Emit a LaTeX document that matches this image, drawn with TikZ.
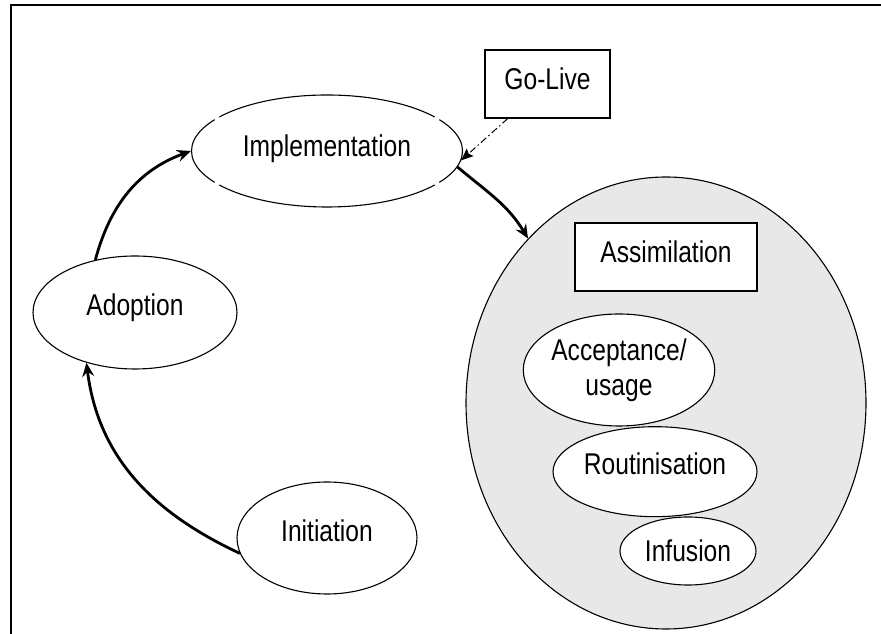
\documentclass[tikz,border=0pt]{standalone}
\usepackage{fontspec}
\setmainfont{Liberation Sans}[FakeStretch=0.82]
\usetikzlibrary{shapes.geometric,arrows.meta,calc}
\definecolor{assimgray}{RGB}{232,232,232}
\begin{document}
\begin{tikzpicture}[x=1pt,y=1pt,
  every node/.style={font=\fontsize{30}{35}\selectfont, inner sep=0pt},
  oval/.style={ellipse, draw, line width=1.1pt, fill=white},
  tbox/.style={rectangle, draw, line width=1.1pt, fill=white},
  flow/.style={line width=2.8pt, -{Stealth[length=14pt,width=12pt,inset=5pt]}},
  hint/.style={line width=1pt, dash pattern=on 7pt off 3pt on 1.5pt off 3pt, -{Stealth[length=12pt,width=10pt,inset=2pt]}}]
\useasboundingbox (0,0) rectangle (881,634);
\draw[line width=2pt] (11,0) -- (11,629) -- (881,629);

\node[oval, fill=assimgray, minimum width=400pt, minimum height=452pt] (assimarea) at (666,231) {};
\node[tbox, minimum width=182pt, minimum height=68pt, text height=21.5pt, text depth=10pt] (assimlabel) at (666,377) {Assimilation};
\node[oval, minimum width=184pt, minimum height=112pt, align=center] (accept) at (619,264) {Acceptance/\\usage};
\node[oval, minimum width=204pt, minimum height=90pt, text height=21.5pt, text depth=15pt] (rout) at (655,162.3) {Routinisation};
\node[oval, minimum width=136pt, minimum height=68pt, text height=21.5pt, text depth=0pt] (infusion) at (688,83) {Infusion};

\node[oval, minimum width=271pt, minimum height=112pt, text height=21.5pt, text depth=10pt] (impl) at (327,483) {Implementation};
\foreach \a in {35.7,144.3,215.7,324.3}
  \draw[white, line width=2.5pt] ($(impl.center)+({135.5*cos(\a-1.6)},{56*sin(\a-1.6)})$) arc[start angle=\a-1.6, end angle=\a+1.6, x radius=135.5, y radius=56];
\node[oval, minimum width=204pt, minimum height=113pt, text height=21.5pt, text depth=15pt] (adopt) at (135,321.5) {Adoption};
\node[oval, minimum width=180pt, minimum height=112pt, text height=21.5pt, text depth=14pt] (init) at (327,96) {Initiation};
\node[tbox, minimum width=125pt, minimum height=68pt, text height=21.5pt, text depth=11pt] (golive) at (547.5,550) {Go-Live};

\draw[flow] (init.190) to[out=155,in=-83] (adopt.226);
\draw[flow] (adopt.127) to[out=75,in=200] (impl.west);
\draw[flow] (impl.-7) to[out=-40,in=121] (assimarea.130);
\draw[hint] (golive.221) -- (impl.-4);
\end{tikzpicture}
\end{document}
